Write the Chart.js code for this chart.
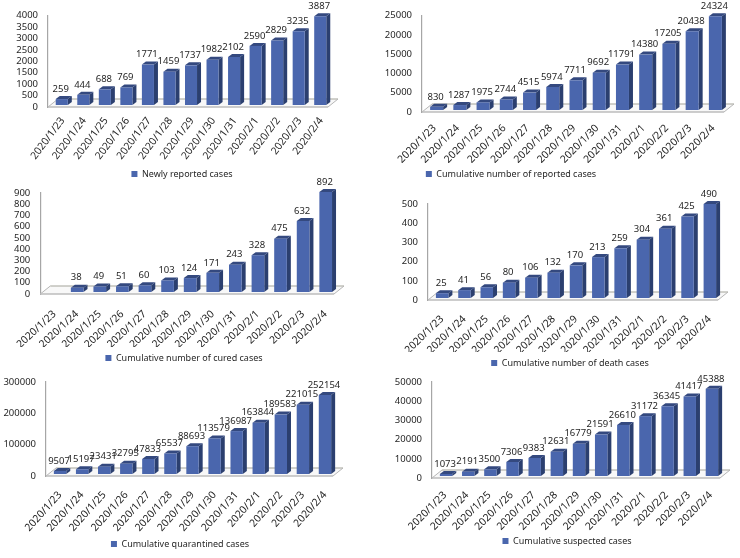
<!DOCTYPE html>
<html>
<head>
<meta charset="utf-8">
<title>Cases</title>
<script src="https://cdn.jsdelivr.net/npm/chart.js@4/dist/chart.umd.min.js"></script>
<style>
  html, body { margin: 0; background: #fff; }
  #page { position: relative; width: 740px; height: 558px; overflow: hidden; }
  #page canvas { position: absolute; filter: blur(0.35px); }
</style>
</head>
<body>
<div id="page"></div>
<script>
const categories = ['2020/1/23', '2020/1/24', '2020/1/25', '2020/1/26', '2020/1/27', '2020/1/28', '2020/1/29',
  '2020/1/30', '2020/1/31', '2020/2/1', '2020/2/2', '2020/2/3', '2020/2/4'];

const newly_reported = [259, 444, 688, 769, 1771, 1459, 1737, 1982, 2102, 2590, 2829, 3235, 3887];
const total_reported = [830, 1287, 1975, 2744, 4515, 5974, 7711, 9692, 11791, 14380, 17205, 20438, 24324];
const total_cured = [null, 38, 49, 51, 60, 103, 124, 171, 243, 328, 475, 632, 892];
const total_death = [25, 41, 56, 80, 106, 132, 170, 213, 259, 304, 361, 425, 490];
const total_quarantined = [9507, 15197, 23431, 32795, 47833, 65537, 88693, 113579, 136987, 163844, 189583, 221015, 252154];
const total_suspected = [1073, 2191, 3500, 7306, 9383, 12631, 16779, 21591, 26610, 31172, 36345, 41417, 45388];

const panels = [
  { label: 'Newly reported cases', values: newly_reported, max: 4000, step: 500, angle: 53, pad: 8, dx: 4,
    box: [0, 0, 370, 186], plot: [48, 328, 14, 107], legend: [182, 177] },
  { label: 'Cumulative number of reported cases', values: total_reported, max: 25000, step: 5000, angle: 45, pad: 10, dx: 1,
    box: [370, 0, 370, 186], plot: [422, 724, 15, 112], legend: [511, 177] },
  { label: 'Cumulative number of cured cases', values: total_cured, max: 900, step: 100, angle: 43, pad: 14, dx: 3,
    box: [0, 170, 370, 200], plot: [39, 334, 193, 294], legend: [184, 361] },
  { label: 'Cumulative number of death cases', values: total_death, max: 500, step: 100, angle: 44, pad: 13, dx: 3,
    box: [370, 170, 370, 205], plot: [428, 718, 204, 300], legend: [570, 366] },
  { label: 'Cumulative quarantined cases', values: total_quarantined, max: 300000, step: 100000, angle: 48, pad: 13, dx: 3,
    box: [0, 360, 370, 198], plot: [46, 333, 382, 476], legend: [180, 547] },
  { label: 'Cumulative suspected cases', values: total_suspected, max: 50000, step: 10000, angle: 45, pad: 11, dx: 2,
    box: [370, 360, 370, 198], plot: [432, 720, 382, 478], legend: [567, 544] },
];

const font_name = '"Noto Sans", sans-serif';
const text_color = '#262626';

const line = (ctx, x0, y0, x1, y1, color, width) => {
  ctx.strokeStyle = color;
  ctx.lineWidth = width;
  ctx.beginPath();
  ctx.moveTo(x0, y0);
  ctx.lineTo(x1, y1);
  ctx.stroke();
};

// draws floor, bar sides and value labels around the bars chart.js draws
const bars3d = {
  id: 'bars3d',
  beforeDatasetsDraw(chart) {
    const { ctx, chartArea: a } = chart;
    ctx.save();
    ctx.beginPath();
    ctx.moveTo(a.left, a.bottom);
    ctx.lineTo(a.right, a.bottom);
    ctx.lineTo(a.right + 10, a.bottom - 8);
    ctx.lineTo(a.left + 10, a.bottom - 8);
    ctx.closePath();
    ctx.fillStyle = '#f8f8f8';
    ctx.fill();
    line(ctx, a.left + 10, a.bottom - 8, a.right + 10, a.bottom - 8, '#a3a39a', 1.2);
    line(ctx, a.left, a.bottom, a.left + 10, a.bottom - 8, '#b5b5b5', 1);
    line(ctx, a.right, a.bottom, a.right + 10, a.bottom - 8, '#b5b5b5', 1);
    line(ctx, a.left, a.bottom, a.right, a.bottom, '#bdbdbd', 1.5);
    ctx.restore();
  },
  beforeDatasetDraw(chart, args) {
    const { ctx, data } = chart;
    ctx.save();
    ctx.translate(3, -2);
    args.meta.data.forEach((bar, i) => {
      if (data.datasets[0].data[i] === null) return;
      const l = bar.x - bar.width / 2;
      const r = bar.x + bar.width / 2;
      ctx.fillStyle = '#2b3f6f';
      ctx.beginPath();
      ctx.moveTo(r, bar.base);
      ctx.lineTo(r + 4, bar.base - 3);
      ctx.lineTo(r + 4, bar.y - 3);
      ctx.lineTo(r, bar.y);
      ctx.closePath();
      ctx.fill();
      ctx.fillStyle = '#34497f';
      ctx.beginPath();
      ctx.moveTo(l, bar.y);
      ctx.lineTo(l + 4, bar.y - 3);
      ctx.lineTo(r + 4, bar.y - 3);
      ctx.lineTo(r, bar.y);
      ctx.closePath();
      ctx.fill();
    });
  },
  afterDatasetDraw(chart) {
    chart.ctx.restore();
  },
  afterDatasetsDraw(chart) {
    const { ctx, data } = chart;
    ctx.save();
    ctx.font = '9.5px ' + font_name;
    ctx.fillStyle = text_color;
    ctx.textAlign = 'center';
    ctx.textBaseline = 'middle';
    chart.getDatasetMeta(0).data.forEach((bar, i) => {
      const v = data.datasets[0].data[i];
      if (v === null) return;
      ctx.fillText(String(v), bar.x + 2, bar.y - 12);
    });
    ctx.restore();
  },
  // legend sits under the plot, not under the canvas centre
  afterLayout(chart, args, opts) {
    const lg = chart.legend;
    const dx = opts.legendX - (lg.left + lg.right) / 2;
    const dy = opts.legendY - (lg.top + lg.bottom) / 2;
    lg.left += dx;
    lg.right += dx;
    lg.top += dy;
    lg.bottom += dy;
  },
};

const page = document.querySelector('#page');

panels.forEach((p) => {
  const [bx, by, bw, bh] = p.box;
  const [left, right, top, bottom] = p.plot;

  const canvas = document.createElement('canvas');
  canvas.width = bw;
  canvas.height = bh;
  canvas.style.cssText = `left:${bx}px;top:${by}px;`;
  page.appendChild(canvas);

  new Chart(canvas, {
    type: 'bar',
    plugins: [bars3d],
    data: {
      labels: categories,
      datasets: [{
        label: p.label,
        data: p.values,
        backgroundColor: '#4a66ad',
        barPercentage: 0.56,
        categoryPercentage: 1,
        clip: false,
      }],
    },
    options: {
      responsive: false,
      animation: false,
      layout: { padding: { top: top - by, right: bx + bw - right, left: 0, bottom: 0 } },
      scales: {
        x: {
          grid: { display: false, drawTicks: false },
          border: { display: false },
          ticks: {
            font: { family: font_name, size: 10.4 }, color: text_color,
            minRotation: p.angle, maxRotation: p.angle, autoSkip: false, padding: p.pad, labelOffset: p.dx,
          },
          afterFit: (s) => { s.height = bh - (bottom - by) - s.chart.legend.height; },
        },
        y: {
          min: 0, max: p.max,
          grid: { display: false, drawTicks: false },
          border: { display: true, color: '#a6a6a6', width: 1.2 },
          ticks: {
            stepSize: p.step, autoSkip: false, font: { family: font_name, size: 9.5 }, color: text_color, padding: 10,
            callback: (v) => String(v),
          },
          afterFit: (s) => { s.width = left - bx; },
        },
      },
      plugins: {
        tooltip: { enabled: false },
        bars3d: { legendX: p.legend[0] - bx, legendY: p.legend[1] - by },
        legend: {
          position: 'bottom',
          labels: { boxWidth: 6, boxHeight: 6, padding: 4, font: { family: font_name, size: 9 }, color: text_color },
        },
      },
    },
  });
});
</script>
</body>
</html>
